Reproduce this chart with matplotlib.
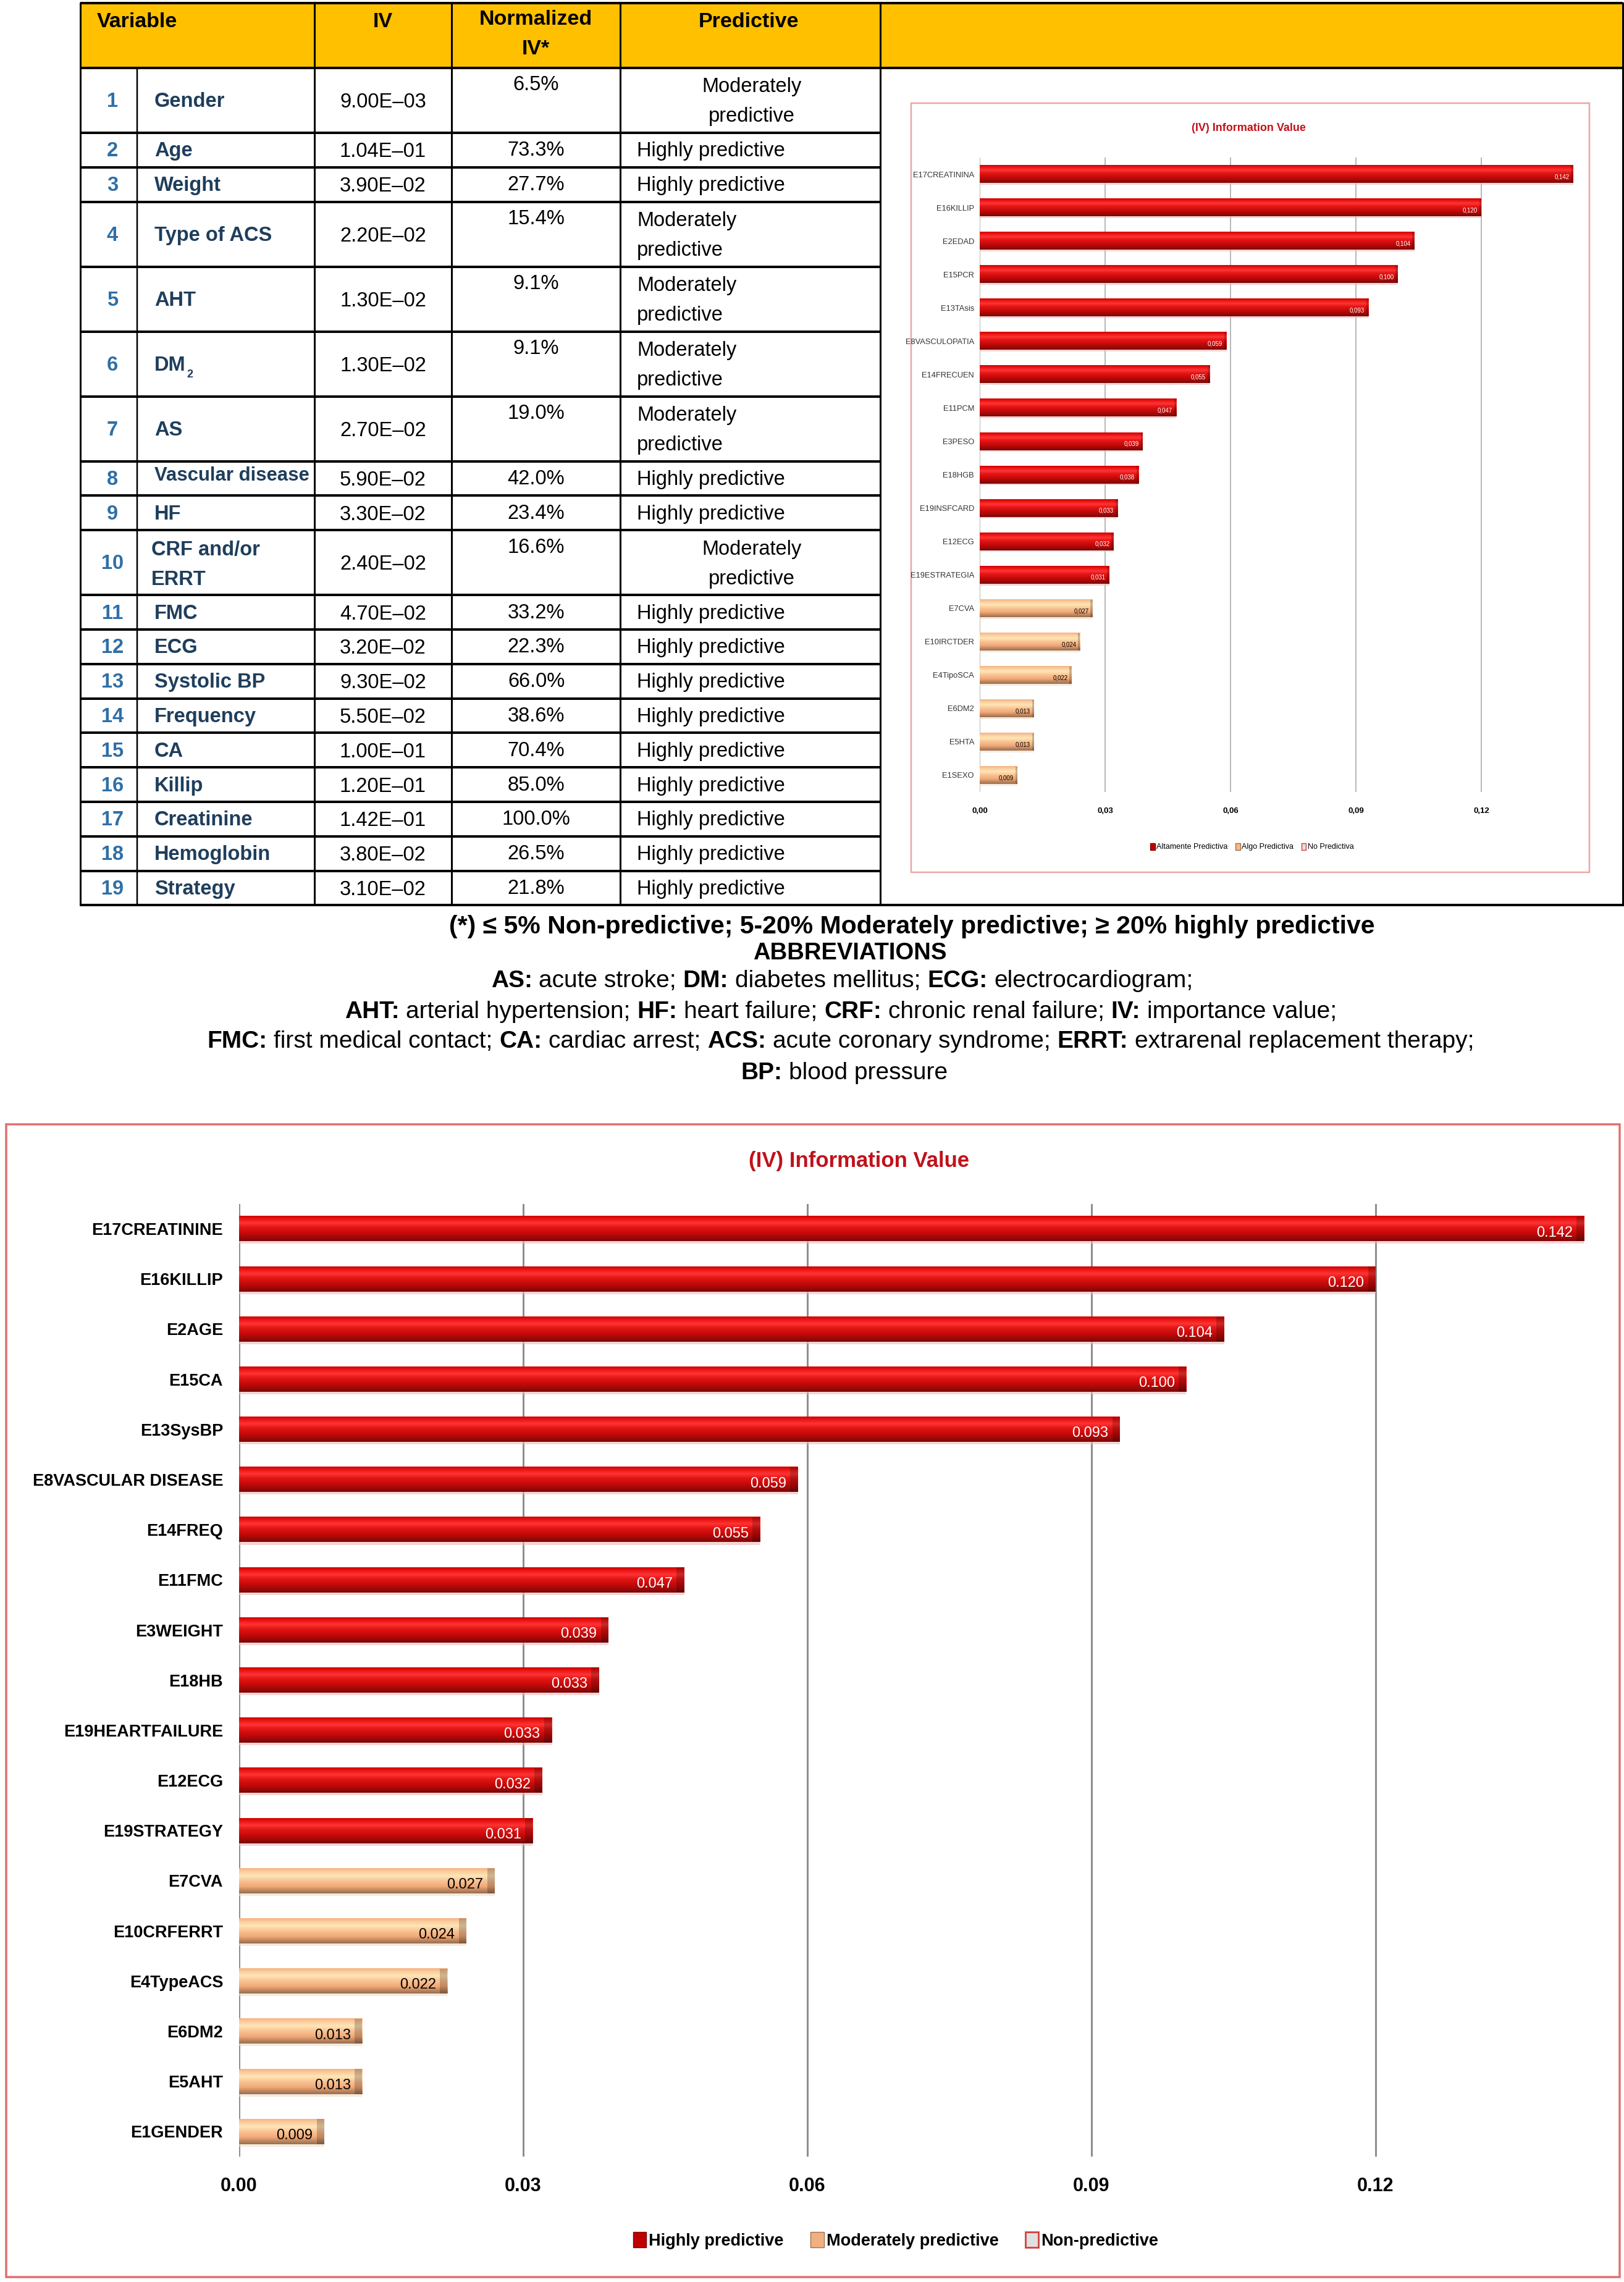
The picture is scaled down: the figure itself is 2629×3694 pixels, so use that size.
import numpy as np
import matplotlib
matplotlib.use('Agg')
import matplotlib.pyplot as plt
from matplotlib.patches import Rectangle, Patch

plt.rcParams['font.family'] = ['Liberation Sans', 'DejaVu Sans']

W, H = 2629, 3694

# ---- table data
num_var = list(range(1, 20))
var_names = ["Gender", "Age", "Weight", "Type of ACS", "AHT", "DM", "AS", "Vascular disease",
             "HF", "CRF and/or\nERRT", "FMC", "ECG", "Systolic BP", "Frequency", "CA",
             "Killip", "Creatinine", "Hemoglobin", "Strategy"]
iv_text = ["9.00E–03", "1.04E–01", "3.90E–02", "2.20E–02", "1.30E–02", "1.30E–02", "2.70E–02",
           "5.90E–02", "3.30E–02", "2.40E–02", "4.70E–02", "3.20E–02", "9.30E–02", "5.50E–02",
           "1.00E–01", "1.20E–01", "1.42E–01", "3.80E–02", "3.10E–02"]
norm_iv = ["6.5%", "73.3%", "27.7%", "15.4%", "9.1%", "9.1%", "19.0%", "42.0%", "23.4%", "16.6%",
           "33.2%", "22.3%", "66.0%", "38.6%", "70.4%", "85.0%", "100.0%", "26.5%", "21.8%"]
MOD = "Moderately\npredictive"
HIGH = "Highly predictive"
predictive = [MOD, HIGH, HIGH, MOD, MOD, MOD, MOD, HIGH, HIGH, MOD,
              HIGH, HIGH, HIGH, HIGH, HIGH, HIGH, HIGH, HIGH, HIGH]

# ---- chart data
chart_labels = ["E17CREATININE", "E16KILLIP", "E2AGE", "E15CA", "E13SysBP", "E8VASCULAR DISEASE",
                "E14FREQ", "E11FMC", "E3WEIGHT", "E18HB", "E19HEARTFAILURE", "E12ECG",
                "E19STRATEGY", "E7CVA", "E10CRFERRT", "E4TypeACS", "E6DM2", "E5AHT", "E1GENDER"]
thumb_labels = ["E17CREATININA", "E16KILLIP", "E2EDAD", "E15PCR", "E13TAsis", "E8VASCULOPATIA",
                "E14FRECUEN", "E11PCM", "E3PESO", "E18HGB", "E19INSFCARD", "E12ECG",
                "E19ESTRATEGIA", "E7CVA", "E10IRCTDER", "E4TipoSCA", "E6DM2", "E5HTA", "E1SEXO"]
iv_values = [0.142, 0.120, 0.104, 0.100, 0.093, 0.059, 0.055, 0.047, 0.039, 0.038,
             0.033, 0.032, 0.031, 0.027, 0.024, 0.022, 0.013, 0.013, 0.009]
value_text = ["0.142", "0.120", "0.104", "0.100", "0.093", "0.059", "0.055", "0.047", "0.039",
              "0.033", "0.033", "0.032", "0.031", "0.027", "0.024", "0.022", "0.013", "0.013", "0.009"]
thumb_value_text = ["0,142", "0,120", "0,104", "0,100", "0,093", "0,059", "0,055", "0,047", "0,039",
                    "0,038", "0,033", "0,032", "0,031", "0,027", "0,024", "0,022", "0,013", "0,013", "0,009"]
iv_class = ["high"] * 13 + ["moderate"] * 6
x_ticks = [0, 0.03, 0.06, 0.09, 0.12]
x_ticklabels = ["0.00", "0.03", "0.06", "0.09", "0.12"]
thumb_ticklabels = ["0,00", "0,03", "0,06", "0,09", "0,12"]
legend_labels = ["Highly predictive", "Moderately predictive", "Non-predictive"]
thumb_legend_labels = ["Altamente Predictiva", "Algo Predictiva", "No Predictiva"]


def px(v):
    # pixels -> points at 100 dpi
    return v * 0.72


def gradient(stops, colors, n=80):
    t = np.linspace(0, 1, n)
    rgb = np.array([matplotlib.colors.to_rgb(c) for c in colors])
    img = np.stack([np.interp(t, stops, rgb[:, k]) for k in range(3)], axis=1)
    return img[:, None, :]


red_img = gradient([0, 0.1, 0.28, 0.45, 0.7, 0.86, 1.0],
                   ["#d00000", "#e81212", "#ff3434", "#e31616", "#c40808", "#9c0a0a", "#7a0707"])
peach_img = gradient([0, 0.12, 0.3, 0.5, 0.72, 0.86, 1.0],
                     ["#f4b384", "#fbcb9c", "#ffe6b6", "#f9c394", "#f2a977", "#c48a62", "#9a6f50"])

fig = plt.figure(figsize=(W / 100, H / 100), dpi=100)
bg = fig.add_axes([0, 0, 1, 1])
bg.set_xlim(0, W)
bg.set_ylim(H, 0)
bg.axis('off')
renderer = fig.canvas.get_renderer()

# ---------------- table ----------------
col_x = [130, 222, 509, 731, 1004, 1425, 2627]
head_top, head_bot = 5, 110
tall = [("\n" in p) or ("\n" in v) for p, v in zip(predictive, var_names)]
row_h = [105 if t else 55.8 for t in tall]
row_top = head_bot + np.concatenate([[0], np.cumsum(row_h)[:-1]])
tab_bot = head_bot + sum(row_h)

bg.add_patch(Rectangle((col_x[0], head_top), col_x[-1] - col_x[0], head_bot - head_top,
                       facecolor="#ffc000", edgecolor="none"))
lw_h, lw_v = px(4), px(3)
for y in [head_top, head_bot, tab_bot]:
    bg.plot([col_x[0], col_x[-1]], [y, y], color="black", lw=lw_h, solid_capstyle='butt')
for y in row_top[1:]:
    bg.plot([col_x[0], col_x[5]], [y, y], color="black", lw=lw_h, solid_capstyle='butt')
for x in [col_x[0], col_x[2], col_x[3], col_x[4], col_x[5], col_x[6]]:
    bg.plot([x, x], [head_top, tab_bot], color="black", lw=lw_v)
bg.plot([col_x[1], col_x[1]], [head_bot, tab_bot], color="black", lw=px(2.5))

hfs = 24.5
bg.text(157, 35, "Variable", fontsize=hfs, fontweight='bold', ha='left', va='center')
bg.text(620, 35, "IV", fontsize=hfs, fontweight='bold', ha='center', va='center')
bg.text(867, 31, "Normalized", fontsize=hfs, fontweight='bold', ha='center', va='center')
bg.text(867, 79, "IV*", fontsize=hfs, fontweight='bold', ha='center', va='center')
bg.text(1212, 35, "Predictive", fontsize=hfs, fontweight='bold', ha='center', va='center')

bfs = 23.5
num_color = "#2f6fa7"
name_color = "#1f3e5c"
centered_pred = {0, 9}
name_room = col_x[2] - 250 - 8
for i in range(len(num_var)):
    top = row_top[i]
    cy = top + row_h[i] / 2
    bg.text(182, cy + 2, str(num_var[i]), fontsize=bfs, fontweight='bold', color=num_color,
            ha='center', va='center')
    name = var_names[i]
    if "\n" in name:
        for k, line in enumerate(name.split("\n")):
            bg.text(245, top + 32 + 48 * k, line, fontsize=bfs, fontweight='bold',
                    color=name_color, ha='left', va='center')
    else:
        t = bg.text(250, cy + 2, name, fontsize=bfs, fontweight='bold', color=name_color,
                    ha='left', va='center')
        w = t.get_window_extent(renderer).width
        if w > name_room:
            # shrink to fit the cell, as in the source table
            t.set_fontsize(bfs * name_room / w)
            t.set_y(cy - 4)
        if name == "DM":
            bg.annotate("2", xy=(1, 0), xycoords=t, xytext=(1, 0), textcoords='offset points',
                        fontsize=13, fontweight='bold', color=name_color, ha='left', va='center')
    bg.text(620, cy + 3, iv_text[i], fontsize=bfs, ha='center', va='center')
    if tall[i]:
        bg.text(868, top + 28, norm_iv[i], fontsize=bfs, ha='center', va='center')
    else:
        bg.text(868, cy + 1, norm_iv[i], fontsize=bfs, ha='center', va='center')
    pred = predictive[i]
    if "\n" in pred:
        for k, line in enumerate(pred.split("\n")):
            if i in centered_pred:
                bg.text(1217, top + 31 + 48 * k, line, fontsize=bfs, ha='center', va='center')
            else:
                bg.text(1031, top + 31 + 48 * k, line, fontsize=bfs, ha='left', va='center')
    else:
        bg.text(1031, cy + 2, pred, fontsize=bfs, ha='left', va='center')


# ---------------- notes ----------------
def rich_line(y, parts, size, cx):
    objs = [bg.text(0, y, s, fontsize=size, fontweight='bold' if b else 'normal',
                    ha='left', va='center') for s, b in parts]
    a = bg.text(0, 0, "x x", fontsize=size)
    b = bg.text(0, 0, "xx", fontsize=size)
    sp = a.get_window_extent(renderer).width - b.get_window_extent(renderer).width
    a.remove()
    b.remove()
    widths = [o.get_window_extent(renderer).width for o in objs]
    x = cx - (sum(widths) + sp * (len(objs) - 1)) / 2
    for o, w in zip(objs, widths):
        o.set_x(x)
        x += w + sp


rich_line(1500, [("(*) ≤ 5% Non-predictive; 5-20% Moderately predictive; ≥ 20% highly predictive", True)], 29.5, 1476)
rich_line(1543, [("ABBREVIATIONS", True)], 27.5, 1376)
rich_line(1588, [("AS:", True), ("acute stroke;", False), ("DM:", True), ("diabetes mellitus;", False),
                 ("ECG:", True), ("electrocardiogram;", False)], 28, 1363)
rich_line(1638, [("AHT:", True), ("arterial hypertension;", False), ("HF:", True), ("heart failure;", False),
                 ("CRF:", True), ("chronic renal failure;", False), ("IV:", True),
                 ("importance value;", False)], 28, 1361)
rich_line(1686, [("FMC:", True), ("first medical contact;", False), ("CA:", True), ("cardiac arrest;", False),
                 ("ACS:", True), ("acute coronary syndrome;", False), ("ERRT:", True),
                 ("extrarenal replacement therapy;", False)], 28, 1361)
rich_line(1737, [("BP:", True), ("blood pressure", False)], 28, 1367)


# ---------------- charts ----------------
def draw_chart(ax, labels, texts, bar_h, end_w, txt_off, txt_fs, grid_c, grid_lw,
               ylab_fs, ylab_w, ylab_c, ypad, xlabels, xfs, xpad):
    for i, (v, c) in enumerate(zip(iv_values, iv_class)):
        img = red_img if c == "high" else peach_img
        shadow = "#f2b8b8" if c == "high" else "#eedcc8"
        ax.barh(i + bar_h * 0.1, v, height=bar_h, color=shadow, alpha=0.6, lw=0, zorder=2)
        ax.imshow(img, extent=(0, v, i + bar_h / 2, i - bar_h / 2), aspect='auto',
                  interpolation='bilinear', zorder=3)
        ax.barh(i, end_w, left=v - end_w, height=bar_h, color="black", alpha=0.2, lw=0, zorder=4)
        ax.text(v - txt_off, i + 0.08, texts[i], fontsize=txt_fs, ha='right', va='center',
                color="white" if c == "high" else "black", zorder=5)
    ax.set_xlim(0, 0.144)
    ax.set_ylim(len(iv_values) - 0.5, -0.5)
    ax.set_yticks(range(len(labels)))
    ax.set_yticklabels(labels, fontsize=ylab_fs, fontweight=ylab_w, color=ylab_c)
    ax.set_xticks(x_ticks)
    ax.set_xticklabels(xlabels, fontsize=xfs, fontweight='bold')
    ax.tick_params(length=0)
    ax.tick_params(axis='y', pad=ypad)
    ax.tick_params(axis='x', pad=xpad)
    ax.grid(axis='x', color=grid_c, lw=grid_lw)
    ax.set_axisbelow(True)
    for s in ax.spines.values():
        s.set_visible(False)
    ax.set_facecolor('none')


def fig_rect(x0, y0, x1, y1):
    return [x0 / W, 1 - y1 / H, (x1 - x0) / W, (y1 - y0) / H]


# thumbnail chart inside the table
bg.add_patch(Rectangle((1475, 167), 1098, 1245, facecolor='white', edgecolor="#eda5a5", lw=px(2.5)))
bg.text(2021, 207, "(IV) Information Value", fontsize=13, fontweight='bold', color="#c0121b",
        ha='center', va='center')
ax_t = fig.add_axes(fig_rect(1586, 255, 1586 + 0.144 / 0.03 * 203, 1282))
draw_chart(ax_t, thumb_labels, thumb_value_text, 0.52, 0.0005, 0.0009, 7, "#b8b8b8", px(2),
           9.3, 'normal', "#333333", px(9), thumb_ticklabels, 9.5, 18)
h_t = [Patch(facecolor="#c00000", edgecolor="#800000"),
       Patch(facecolor="#f5b888", edgecolor="#a07050"),
       Patch(facecolor="#e0e0e0", edgecolor="#d04040")]
fig.legend(h_t, thumb_legend_labels, loc='center', bbox_to_anchor=(2027 / W, 1 - 1371 / H), ncol=3,
           frameon=False, fontsize=9, handlelength=0.6, handleheight=1.0, handletextpad=0.2,
           columnspacing=1.0)

# main chart
bg.add_patch(Rectangle((10, 1820), 2612, 1866, facecolor='none', edgecolor="#e07070", lw=px(3.5)))
bg.text(1391, 1880, "(IV) Information Value", fontsize=25, fontweight='bold', color="#c0121b",
        ha='center', va='center')
ax_m = fig.add_axes(fig_rect(387, 1948.5, 387 + 0.144 / 0.03 * 460, 3491))
draw_chart(ax_m, chart_labels, value_text, 0.5, 0.0008, 0.0012, 17, "#8e8e8e", px(3),
           19.5, 'bold', "black", px(26), x_ticklabels, 22, 24)
h_m = [Patch(facecolor="#c00000", edgecolor="#800000"),
       Patch(facecolor="#f0b080", edgecolor="#a07050"),
       Patch(facecolor="#e0e0e0", edgecolor="#d04040", lw=2)]
fig.legend(h_m, legend_labels, loc='center', bbox_to_anchor=(1450 / W, 1 - 3627 / H), ncol=3,
           frameon=False, prop={'weight': 'bold', 'size': 19.5}, handlelength=0.8, handleheight=1.0,
           handletextpad=0.15, columnspacing=1.6)

fig.savefig("out.png", dpi=100, facecolor='white')
